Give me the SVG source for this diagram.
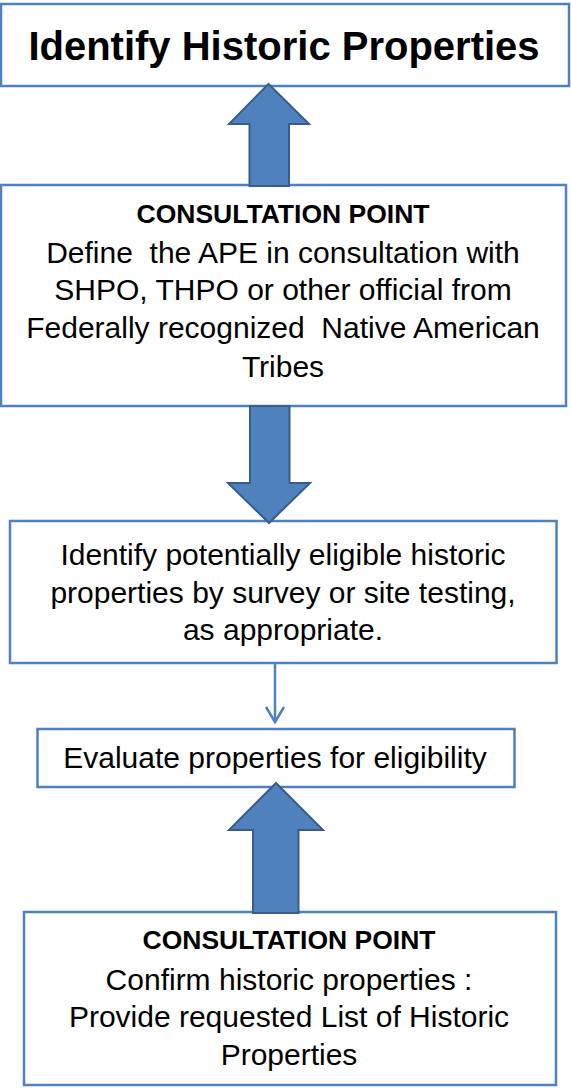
<svg xmlns="http://www.w3.org/2000/svg" width="571" height="1090" viewBox="0 0 571 1090">
<defs>
<style>
.box{fill:#ffffff;stroke:#4f81bd;stroke-width:2.5}
.big{fill:#4f81bd;stroke:#385d8a;stroke-width:2}
.thin{fill:none;stroke:#4f81bd;stroke-width:2.5}
text{font-family:"Liberation Sans",Arial,sans-serif;fill:#000000;text-anchor:middle;white-space:pre}
.title{font-size:40px;font-weight:bold}
.hd{font-size:26.5px;font-weight:bold}
.tx{font-size:30px}
</style>
</defs>
<rect width="571" height="1090" fill="#ffffff"/>
<g id="n1">
<rect class="box" x="1" y="4" width="568" height="82"/>
<text class="title" x="284" y="60">Identify Historic Properties</text>
</g>
<g id="n2">
<rect class="box" x="1" y="185" width="565" height="221"/>
<text class="hd" x="283" y="223">CONSULTATION POINT</text>
<text class="tx" x="283" y="263" xml:space="preserve">Define  the APE in consultation with</text>
<text class="tx" x="283" y="300">SHPO, THPO or other official from</text>
<text class="tx" x="283" y="338" xml:space="preserve">Federally recognized  Native American</text>
<text class="tx" x="283" y="377">Tribes</text>
</g>
<g id="n3">
<rect class="box" x="10" y="521" width="546.5" height="142"/>
<text class="tx" x="283" y="565">Identify potentially eligible historic</text>
<text class="tx" x="283" y="603">properties by survey or site testing,</text>
<text class="tx" x="283" y="640">as appropriate.</text>
</g>
<g id="n4">
<rect class="box" x="37.5" y="729" width="477" height="58"/>
<text class="tx" x="275" y="768">Evaluate properties for eligibility</text>
</g>
<g id="n5">
<rect class="box" x="24" y="912" width="532" height="173"/>
<text class="hd" x="289" y="949">CONSULTATION POINT</text>
<text class="tx" x="289" y="990">Confirm historic properties :</text>
<text class="tx" x="289" y="1027">Provide requested List of Historic</text>
<text class="tx" x="289" y="1065">Properties</text>
</g>
<g id="connectors">
<polygon class="big" points="268.5,84 309,124 289,124 289,186 249.5,186 249.5,124 229,124"/>
<polygon class="big" points="250,406 289.5,406 289.5,483 310,483 269,523 228,483 250,483"/>
<polygon class="big" points="276,783 323,830 298.5,830 298.5,913 253,913 253,830 229,830"/>
<line class="thin" x1="275" y1="663" x2="275" y2="722"/>
<path class="thin" d="M266,707 L275,722 L284,707"/>
</g>
</svg>
